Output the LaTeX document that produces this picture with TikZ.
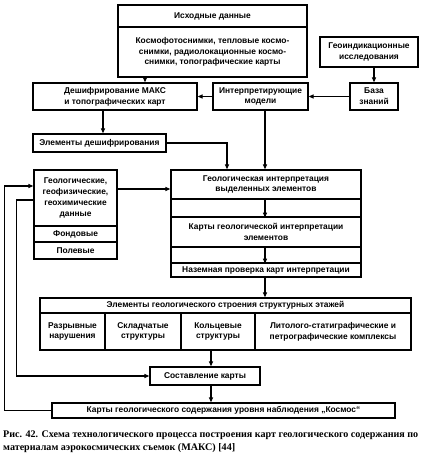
\documentclass[tikz,border=0pt]{standalone}
\usepackage{fontspec}
\setmainfont{Liberation Sans}
\newfontfamily\capfont{Liberation Serif}
\usetikzlibrary{arrows.meta}
\tikzset{
  bx/.style={draw, line width=1.2pt, align=center, inner sep=1pt, font=\fontsize{8.4}{10.8}\selectfont\bfseries},
  arr/.style={line width=1.2pt, -{Triangle[length=5pt,width=4pt]}},
}
\begin{document}
\begin{tikzpicture}[x=1pt,y=-1pt]
\useasboundingbox (0,0) rectangle (425,462);
% top
\node[bx, minimum width=189, minimum height=22] (th) at (212.5,16) {Исходные данные};
\node[bx, minimum width=189, minimum height=50] (tb) at (212.5,52) {Космофотоснимки, тепловые космо-\\снимки, радиолокационные космо-\\снимки, топографические карты};
\node[bx, minimum width=98, minimum height=30] (geoind) at (369,52) {Геоиндикационные\\исследования};
\node[bx, minimum width=164, minimum height=27] (desh) at (115,96.5) {Дешифрирование МАКС\\и топографических карт};
\node[bx, minimum width=95, minimum height=27] (interp) at (260.5,96.5) {Интерпретирующие\\модели};
\node[bx, minimum width=48, minimum height=27] (baza) at (374,96.5) {База\\знаний};
\node[bx, minimum width=133, minimum height=18] (eld) at (99.5,143) {Элементы дешифрирования};
% right column
\node[bx, minimum width=190, minimum height=29] (gi) at (266,184.5) {Геологическая интерпретация\\выделенных элементов};
\node[bx, minimum width=190, minimum height=18] (g1) at (266,208) {};
\node[bx, minimum width=190, minimum height=30] (ki) at (266,232) {Карты геологической интерпретации\\элементов};
\node[bx, minimum width=190, minimum height=16] (g2) at (266,255) {};
\node[bx, minimum width=190, minimum height=14] (nz) at (266,270) {Наземная проверка карт интерпретации};
% left column
\node[bx, minimum width=83, minimum height=56] (lg) at (75.5,198) {Геологические,\\геофизические,\\геохимические\\данные};
\node[bx, minimum width=83, minimum height=16] (fd) at (75.5,234) {Фондовые};
\node[bx, minimum width=83, minimum height=17] (pl) at (75.5,250.5) {Полевые};
% structure
\node[bx, minimum width=371, minimum height=15] (es) at (225.5,305.5) {Элементы геологического строения структурных этажей};
\node[bx, minimum width=65, minimum height=37] (c1) at (72.5,331.5) {Разрывные\\нарушения};
\node[bx, minimum width=76, minimum height=37] (c2) at (143,331.5) {Складчатые\\структуры};
\node[bx, minimum width=74, minimum height=37] (c3) at (218,331.5) {Кольцевые\\структуры};
\node[bx, minimum width=156, minimum height=37] (c4) at (333,331.5) {Литолого-статиграфические и\\петрографические комплексы};
\node[bx, minimum width=110, minimum height=18] (sc) at (205,376) {Составление карты};
\node[bx, minimum width=343, minimum height=15] (kk) at (223.5,410.5) {Карты геологического содержания уровня наблюдения „Космос“};
% caption
\node[anchor=north west, align=left, inner sep=0pt, font=\capfont\fontsize{10.1}{12.5}\selectfont\bfseries] (cap) at (3,431) {Рис. 42. Схема технологического процесса построения карт геологического содержания по\\материалам аэрокосмических съемок (МАКС) [44]};
% arrows
\draw[arr] (tb.south -| 145,0) -- (desh.north -| 145,0);
\draw[arr] (geoind.south -| baza.north) -- (baza.north);
\draw[arr] (baza.west) -- (interp.east);
\draw[arr] (interp.west) -- (desh.east);
\draw[arr] (desh.south -| 103,0) -- (eld.north -| 103,0);
\draw[arr] (interp.south -| 265,0) -- (gi.north -| 265,0);
\draw[arr] (eld.east) -| (gi.north -| 227,0);
\draw[arr] (lg.east |- 0,189) -- (gi.west |- 0,189);
\draw[arr] (g1.north -| 265,0) -- (g1.south -| 265,0);
\draw[arr] (g2.north -| 265,0) -- (g2.south -| 265,0);
\draw[arr] (nz.south -| 265,0) -- (es.north -| 265,0);
\draw[arr] (c3.south -| 211,0) -- (sc.north -| 211,0);
\draw[arr] (sc.south -| 211,0) -- (kk.north -| 211,0);
\draw[arr] (kk.west) -- ++(-47,0) |- (lg.west |- 0,186);
\draw[arr] (lg.west |- 0,200) -- ++(-17,0) |- (sc.west);
\end{tikzpicture}
\end{document}
